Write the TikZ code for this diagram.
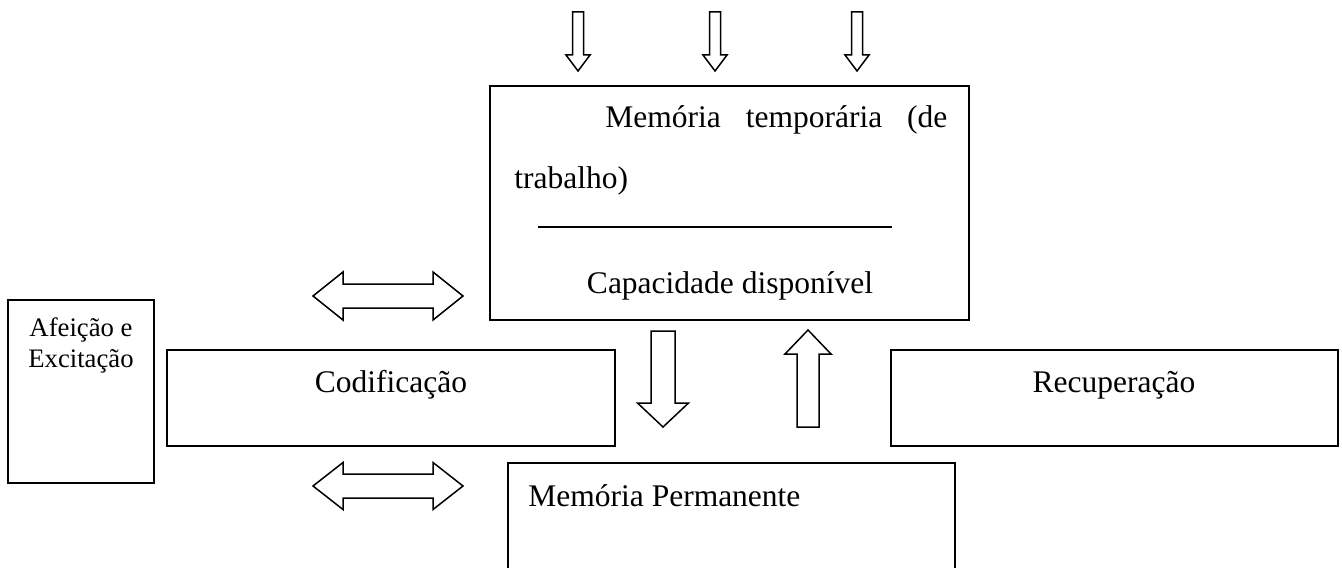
\documentclass[tikz,border=0pt]{standalone}
\usepackage{fontspec}
\setmainfont{Liberation Serif}
\tikzset{
  caixa/.style={draw,line width=1pt,inner sep=0pt},
  texto/.style={inner sep=0pt,font=\fontsize{15.75}{30.5}\selectfont},
  textop/.style={inner sep=0pt,font=\fontsize{13.35}{15.5}\selectfont},
  seta/.style={draw,line width=.75pt,line join=miter},
}
\begin{document}
\begin{tikzpicture}[x=.5pt,y=-.5pt]
\newcommand{\Seta}[6]{\draw[seta,shift={#1},rotate=#2](0,-#4)--(#3-#6,-#4)--(#3-#6,-#5)--(#3,0)--(#3-#6,#5)--(#3-#6,#4)--(0,#4)--cycle;}
\newcommand{\SetaDupla}[5]{\draw[seta,shift={#1}](0,0)--(#5,-#4)--(#5,-#3)--(#2-#5,-#3)--(#2-#5,-#4)--(#2,0)--(#2-#5,#4)--(#2-#5,#3)--(#5,#3)--(#5,#4)--cycle;}
\clip(0,0)rectangle(1342,567);
% caixas
\node[caixa,minimum width=239.5pt,minimum height=117pt](temp)at(729.5,203){};
\node[caixa,minimum width=73pt,minimum height=91.5pt](afeicao)at(81,391.5){};
\node[caixa,minimum width=224pt,minimum height=48pt](codif)at(391,398){};
\node[caixa,minimum width=223.5pt,minimum height=48pt](recup)at(1114.5,398){};
\node[caixa,minimum width=223.5pt,minimum height=90pt](perm)at(731.5,553){};
% textos
\node[texto,anchor=base west,text width=216.5pt,align=left](ttemp)at(514,127)
  {\hspace*{45.5pt}Memória\hfill temporária\hfill (de\\trabalho)};
\draw[line width=1pt](538,227)--(892,227);
\node[texto,anchor=base](tcap)at(730,293){Capacidade disponível};
\node[textop,anchor=base,align=center](tafeicao)at(81,367){Afeição e\\Excitação};
\node[texto,anchor=base](tcodif)at(391,392){Codificação};
\node[texto,anchor=base](trecup)at(1114,392){Recuperação};
\node[texto,anchor=base west](tperm)at(528,506){Memória Permanente};
% setas
\foreach \sx in {578,715,857}{
  \Seta{(\sx,12)}{-90}{59}{5.5}{12}{16}
}
\Seta{(663,331)}{-90}{96}{12}{25.5}{24}
\Seta{(808,427)}{90}{97}{11}{23}{24}
\SetaDupla{(313,296)}{150}{12}{24}{30}
\SetaDupla{(313,486)}{150}{12}{23.5}{30}
\end{tikzpicture}
\end{document}
